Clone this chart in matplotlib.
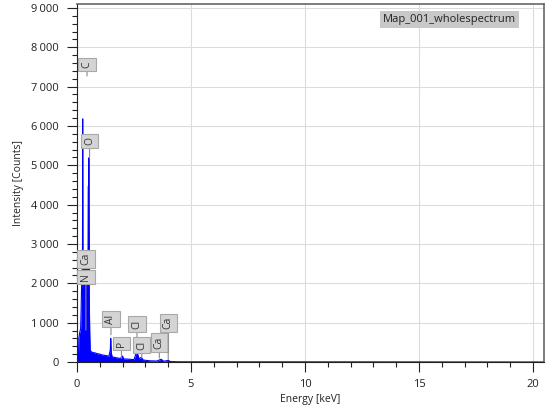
"""EDS spectrum: Map_001_wholespectrum."""

import matplotlib

matplotlib.use("Agg")
import matplotlib.pyplot as plt
from matplotlib.ticker import FuncFormatter, MultipleLocator

plt.rcParams["font.family"] = ["Open Sans", "DejaVu Sans"]

# spectrum (keV, counts)
energy_kev = [0.00, 0.06, 0.08, 0.12, 0.16, 0.18, 0.20, 0.22, 0.24, 0.25, 0.26, 0.28, 0.30,
              0.34, 0.38, 0.40, 0.44, 0.48, 0.50, 0.51, 0.52, 0.53, 0.54, 0.56, 0.58, 0.62,
              0.70, 0.80, 0.90, 1.00, 1.10, 1.20, 1.30, 1.40, 1.46, 1.48, 1.50, 1.54, 1.70,
              1.90, 2.00, 2.04, 2.30, 2.50, 2.58, 2.62, 2.66, 2.72, 2.82, 2.90, 3.20, 3.50,
              3.69, 3.80, 4.01, 4.10, 4.50, 20.48]
counts = [0, 0, 600, 750, 850, 1300, 1900, 2300, 2450, 6180, 2500, 2550, 2600,
          2600, 2550, 2500, 2450, 2400, 4475, 2300, 5190, 2200, 1500, 700, 300, 260,
          240, 230, 210, 200, 180, 170, 160, 150, 300, 600, 250, 130, 110,
          90, 150, 80, 70, 60, 200, 420, 200, 80, 120, 50, 30, 25,
          70, 20, 40, 10, 5, 0]

# element markers: label, box centre (keV, counts), pointer tip counts
labels = ["C", "O", "Ca", "N", "Al", "P", "Cl", "Cl", "Ca", "Ca"]
label_x = [0.44, 0.55, 0.39, 0.39, 1.49, 1.95, 2.63, 2.84, 3.61, 4.00]
label_y = [7560, 5620, 2620, 2170, 1090, 470, 965, 430, 495, 990]
tip_y = [7270, 5185, 2620, 810, 690, 100, 560, 100, 100, 60]

legend_text = "Map_001_wholespectrum"


def thousands(v, _pos):
    return f"{v:,.0f}".replace(",", "\u202f")


fig = plt.figure(figsize=(5.5, 4.13), dpi=100)
ax = fig.add_axes([0.14, 0.1235, 0.849, 0.8668])

ax.fill_between(energy_kev, counts, color="#0000ff", lw=0, zorder=2)
ax.plot(energy_kev, counts, color="#0000ff", lw=0.8, zorder=2)

ax.set_xlim(0, 20.48)
ax.set_ylim(0, 9100)
ax.xaxis.set_major_locator(MultipleLocator(5))
ax.xaxis.set_minor_locator(MultipleLocator(1))
ax.yaxis.set_major_locator(MultipleLocator(1000))
ax.yaxis.set_minor_locator(MultipleLocator(200))
ax.yaxis.set_major_formatter(FuncFormatter(thousands))
ax.tick_params(which="major", length=7, width=0.8, labelsize=8, colors="#222222")
ax.tick_params(which="minor", length=3.5, width=0.8, colors="#222222")
ax.tick_params(axis="y", pad=6)
ax.tick_params(axis="x", pad=5)
ax.grid(True, which="major", color="#dcdcdc", lw=0.8, zorder=0)
ax.set_axisbelow(True)

for side in ("top", "right"):
    ax.spines[side].set_color("#666666")
    ax.spines[side].set_linewidth(1.2)
for side in ("left", "bottom"):
    ax.spines[side].set_color("#222222")
    ax.spines[side].set_linewidth(0.8)

ax.set_xlabel("Energy [keV]", fontsize=7.5, color="#222222", labelpad=3)
ax.set_ylabel("Intensity [Counts]", fontsize=7.5, color="#222222", labelpad=5)

for text, x, y, tip in zip(labels, label_x, label_y, tip_y):
    ax.annotate(text, xy=(x, tip), xytext=(x, y), rotation=90, ha="center", va="center",
                fontsize=7.5, color="#333333", zorder=5,
                bbox=dict(boxstyle="square,pad=0.3", fc="#d4d4d4", ec="#a8a8a8", lw=0.8),
                arrowprops=dict(arrowstyle="-", color="#8a8a8a", lw=0.8, shrinkA=0, shrinkB=0))

ax.text(0.798, 0.957, legend_text, transform=ax.transAxes, ha="center", va="center",
        fontsize=8, color="#222222", zorder=6,
        bbox=dict(boxstyle="square,pad=0.25", fc="#c8c8c8", ec="none"))

fig.savefig("out.png", dpi=100)
